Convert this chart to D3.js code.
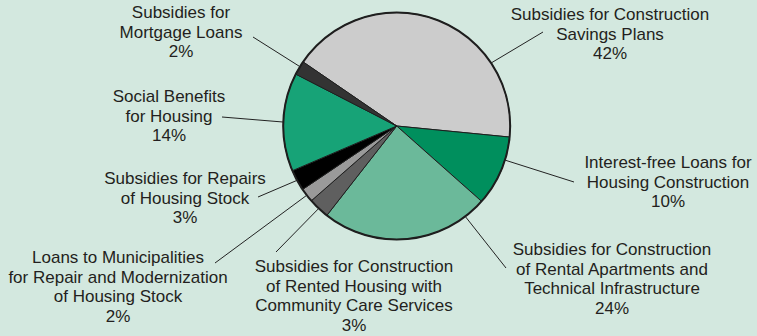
<!DOCTYPE html>
<html>
<head>
<meta charset="utf-8">
<script src="https://cdn.jsdelivr.net/npm/d3@7"></script>
<style>
  html, body { margin: 0; padding: 0; background: #d3e8df; }
  svg { display: block; }
</style>
</head>
<body>
<svg id="chart" width="757" height="336"></svg>
<script>
// Housing support spending, share of total (%)
const categories = [
  "Subsidies for Construction Savings Plans",
  "Interest-free Loans for Housing Construction",
  "Subsidies for Construction of Rental Apartments and Technical Infrastructure",
  "Subsidies for Construction of Rented Housing with Community Care Services",
  "Loans to Municipalities for Repair and Modernization of Housing Stock",
  "Subsidies for Repairs of Housing Stock",
  "Social Benefits for Housing",
  "Subsidies for Mortgage Loans"
];
const shares = [42, 10, 24, 3, 2, 3, 14, 2];
const labelLines = [
  ["Subsidies for Construction", "Savings Plans"],
  ["Interest-free Loans for", "Housing Construction"],
  ["Subsidies for Construction", "of Rental Apartments and", "Technical Infrastructure"],
  ["Subsidies for Construction", "of Rented Housing with", "Community Care Services"],
  ["Loans to Municipalities", "for Repair and Modernization", "of Housing Stock"],
  ["Subsidies for Repairs", "of Housing Stock"],
  ["Social Benefits", "for Housing"],
  ["Subsidies for", "Mortgage Loans"]
];

// Styling and layout
const sliceColors = ["#cccccc", "#008f5d", "#6bb99a", "#5f5f5f", "#9a9a9a", "#000000", "#17a377", "#333333"];
const labelPos = [
  { x: 610, y: 20 }, { x: 668, y: 168 }, { x: 612, y: 255 }, { x: 354, y: 272 },
  { x: 118, y: 263 }, { x: 185, y: 184 }, { x: 169, y: 102 }, { x: 181, y: 18 }
];
// where each leader line begins along its slice (0 = slice start, 1 = slice end)
const leaderFrac = [0.74, 0.33, 0.13, 0.5, 0.5, 0.5, 0.5, 0.6];
const leaderEnd = [
  { x: 543, y: 32 }, { x: 574, y: 182 }, { x: 506, y: 268 }, { x: 276, y: 252 },
  { x: 215, y: 263 }, { x: 258, y: 197 }, { x: 222, y: 117 }, { x: 253, y: 37 }
];

const cx = 396.7, cy = 126, radius = 113.5;
const startDeg = -55.6;
const lineHeight = 19.6;

const svg = d3.select("#chart");
const data = categories.map((c, i) => ({ name: c, value: shares[i], i }));

const pie = d3.pie()
  .value(d => d.value)
  .sort(null)
  .startAngle(startDeg * Math.PI / 180)
  .endAngle(startDeg * Math.PI / 180 + 2 * Math.PI);
const arcs = pie(data);
const arc = d3.arc().innerRadius(0).outerRadius(radius);

const g = svg.append("g").attr("transform", `translate(${cx},${cy})`);

g.selectAll("path.slice")
  .data(arcs)
  .join("path")
  .attr("class", "slice")
  .attr("d", arc)
  .attr("fill", d => sliceColors[d.data.i])
  .attr("stroke", "#1e1e1e")
  .attr("stroke-width", 1)
  .attr("stroke-linejoin", "round");

g.append("circle")
  .attr("r", radius)
  .attr("fill", "none")
  .attr("stroke", "#1e1e1e")
  .attr("stroke-width", 2);

// Leader lines from the rim to the labels
svg.selectAll("line.leader")
  .data(arcs)
  .join("line")
  .attr("class", "leader")
  .attr("x1", d => cx + radius * Math.sin(d.startAngle + (d.endAngle - d.startAngle) * leaderFrac[d.data.i]))
  .attr("y1", d => cy - radius * Math.cos(d.startAngle + (d.endAngle - d.startAngle) * leaderFrac[d.data.i]))
  .attr("x2", d => leaderEnd[d.data.i].x)
  .attr("y2", d => leaderEnd[d.data.i].y)
  .attr("stroke", "#222")
  .attr("stroke-width", 1);

// Labels
const labels = svg.selectAll("text.label")
  .data(arcs)
  .join("text")
  .attr("class", "label")
  .attr("text-anchor", "middle")
  .attr("font-family", "'Liberation Sans', Arial, Helvetica, sans-serif")
  .attr("font-size", 17)
  .attr("fill", "#231f20")
  .attr("transform", d => `translate(${labelPos[d.data.i].x},${labelPos[d.data.i].y})`);

labels.each(function(d) {
  const t = d3.select(this);
  const lines = labelLines[d.data.i].concat([d.data.value + "%"]);
  lines.forEach((s, k) => {
    t.append("tspan").attr("x", 0).attr("y", k * lineHeight).text(s);
  });
});
</script>
</body>
</html>
